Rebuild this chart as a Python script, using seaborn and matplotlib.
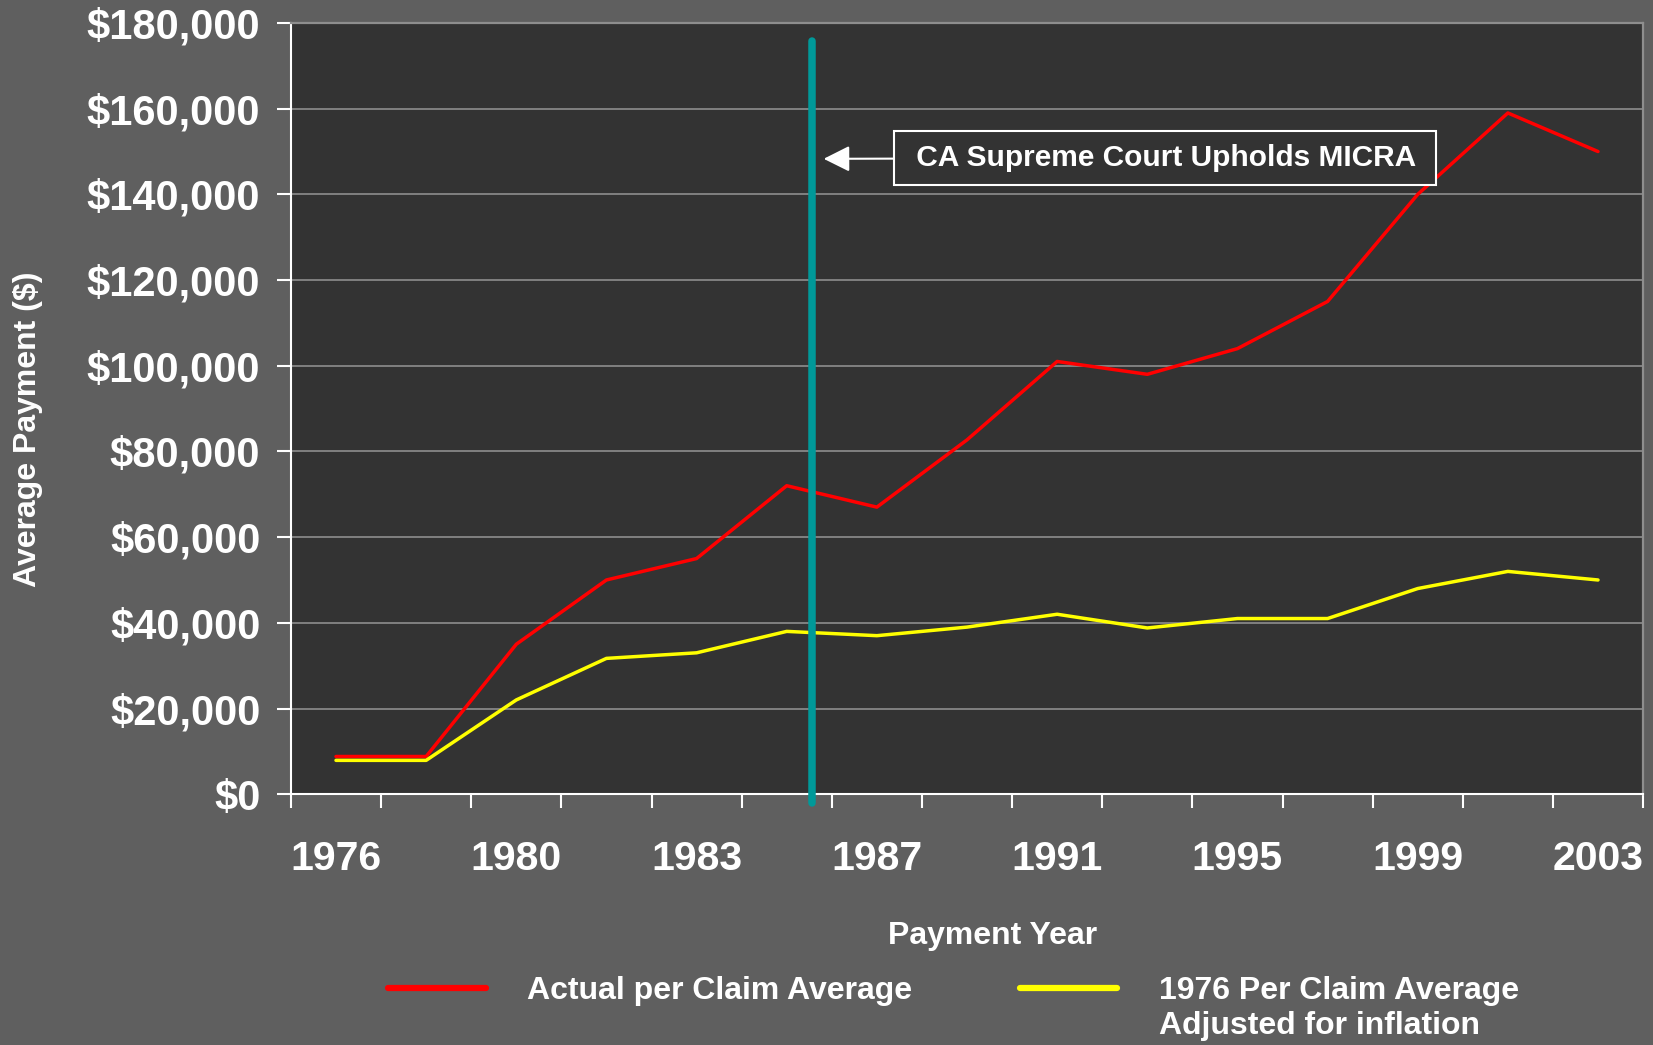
import numpy as np
import pandas as pd
import matplotlib
matplotlib.use('Agg')
import matplotlib.pyplot as plt
import seaborn as sns

# payment years (only every other period carries a label on the axis)
year_labels = ['1976', '', '1980', '', '1983', '', '1987', '', '1991', '',
               '1995', '', '1999', '', '2003']
actual_avg = [8800, 8800, 35000, 50000, 55000, 72000, 67000, 82700,
              101000, 98000, 104000, 115000, 140000, 159000, 150000]
adjusted_avg = [7900, 7900, 22000, 31700, 33000, 38000, 37000, 39000,
                42000, 38800, 41000, 41000, 48000, 52000, 50000]
series_names = ['Actual per Claim Average', '1976 Per Claim Average']
series_note = 'Adjusted for inflation'
y_ticks = list(range(0, 180001, 20000))
micra_pos = 5.28
micra_text = ' CA Supreme Court Upholds MICRA '

periods = np.arange(len(year_labels))
df = pd.concat([
    pd.DataFrame({'period': periods, 'payment': actual_avg, 'series': series_names[0]}),
    pd.DataFrame({'period': periods, 'payment': adjusted_avg, 'series': series_names[1]}),
])

fig_bg = '#5f5f5f'
ax_bg = '#333333'
grid_c = '#8e8e8e'

sns.set_theme(style='dark', rc={
    'figure.facecolor': fig_bg,
    'axes.facecolor': ax_bg,
    'text.color': 'white',
    'axes.labelcolor': 'white',
    'xtick.color': 'white',
    'ytick.color': 'white',
})
plt.rcParams['font.family'] = ['Liberation Sans', 'DejaVu Sans']
plt.rcParams['font.weight'] = 'bold'

fig, ax = plt.subplots(figsize=(16.53, 10.45), dpi=100)
fig.subplots_adjust(left=0.176, right=0.994, top=0.978, bottom=0.240)

sns.lineplot(data=df, x='period', y='payment', hue='series', ax=ax,
             palette={series_names[0]: '#ff0000', series_names[1]: '#ffff00'},
             linewidth=2.5, legend=True)

ax.set_xlim(-0.5, len(year_labels) - 0.5)
ax.set_ylim(0, 180000)
ax.set_yticks(y_ticks)
ax.set_yticklabels([f'${v:,}' for v in y_ticks], fontsize=30, fontweight='bold')
ax.yaxis.grid(True, color=grid_c, linewidth=1.2)
ax.xaxis.grid(False)
ax.set_axisbelow(True)

# boundaries as major ticks, labels on the periods themselves
ax.set_xticks(np.arange(-0.5, len(year_labels), 1))
ax.set_xticklabels([])
ax.set_xticks(periods, minor=True)
ax.set_xticklabels(year_labels, minor=True, fontsize=29.5, fontweight='bold')
ax.tick_params(axis='x', which='major', length=10, width=1.5, direction='out', bottom=True)
ax.tick_params(axis='x', which='minor', length=0, pad=33)
ax.tick_params(axis='y', length=10, width=1.5, direction='out', left=True, pad=12)

for side in ['left', 'bottom']:
    ax.spines[side].set_color('white')
    ax.spines[side].set_linewidth(1.5)
for side in ['right', 'top']:
    ax.spines[side].set_color(grid_c)
    ax.spines[side].set_linewidth(1.6)

ax.set_xlabel('Payment Year', fontsize=23, fontweight='bold')
ax.set_ylabel('Average Payment ($)', fontsize=23, fontweight='bold')
ax.xaxis.set_label_coords(0.519, -0.164)
ax.yaxis.set_label_coords(-0.183, 0.473)

# MICRA marker and callout
ax.axvline(micra_pos, ymin=-0.012, ymax=0.976, color='#009999', linewidth=5.4,
           clip_on=False, zorder=5)
ax.annotate(micra_text, xy=(5.41, 148300), xytext=(9.2, 148500),
            ha='center', va='center', color='white', fontsize=21.5, fontweight='bold',
            bbox=dict(boxstyle='square,pad=0.45', fc=ax_bg, ec='white', lw=1.5),
            arrowprops=dict(arrowstyle='-|>,head_length=0.8,head_width=0.4',
                            color='white', lw=1.5, mutation_scale=20,
                            shrinkA=0, shrinkB=0),
            zorder=6)

handles, labels = ax.get_legend_handles_labels()
ax.get_legend().remove()
leg = fig.legend(handles, labels, loc='upper left', bbox_to_anchor=(0.235, 0.066),
                 ncol=2, frameon=False, handlelength=3.05, handletextpad=1.3,
                 columnspacing=3.35, borderpad=0, borderaxespad=0,
                 prop={'size': 23, 'weight': 'bold'})
for line in leg.get_lines():
    line.set_linewidth(4.5)
for t in leg.get_texts():
    t.set_color('white')

# second line of the inflation-adjusted label, under its legend entry
fig.canvas.draw()
bb = leg.get_texts()[1].get_window_extent().transformed(fig.transFigure.inverted())
fig.text(bb.x0, bb.y0 - 0.005, series_note, ha='left', va='top',
         fontsize=23, fontweight='bold', color='white')

fig.savefig('out.png', dpi=100, facecolor=fig.get_facecolor())
